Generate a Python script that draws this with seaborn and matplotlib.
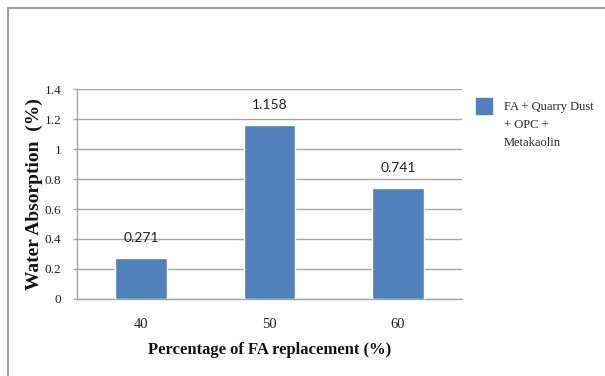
import matplotlib
matplotlib.use("Agg")
import matplotlib.pyplot as plt
import seaborn as sns
import pandas as pd
from matplotlib.lines import Line2D

# Data
replacement = ["40", "50", "60"]
water_absorption = [0.271, 1.158, 0.741]
value_labels = ["0.271", "1.158", "0.741"]
series_name = "FA + Quarry Dust\n+ OPC +\nMetakaolin"
y_ticks = [0, 0.2, 0.4, 0.6, 0.8, 1, 1.2, 1.4]
y_tick_labels = ["0", "0.2", "0.4", "0.6", "0.8", "1", "1.2", "1.4"]

df = pd.DataFrame({"Replacement": replacement, "Absorption": water_absorption})

sns.set_theme(style="white")
plt.rcParams["font.family"] = ["Liberation Serif", "DejaVu Serif"]

bar_color = "#4F81BD"
grid_color = "#A6A6A6"

fig = plt.figure(figsize=(6.05, 3.76), dpi=100)
ax = fig.add_axes([0.127, 0.205, 0.637, 0.558])

sns.barplot(data=df, x="Replacement", y="Absorption", color=bar_color,
            width=0.4, saturation=1, ax=ax, zorder=3)

ax.set_ylim(0, 1.4)
ax.set_yticks(y_ticks)
ax.set_yticklabels(y_tick_labels)
ax.set_xlim(-0.5, 2.5)
ax.yaxis.grid(True, color=grid_color, linewidth=1.0, zorder=0)
ax.set_axisbelow(True)

for side in ["top", "right"]:
    ax.spines[side].set_visible(False)
for side in ["left", "bottom"]:
    ax.spines[side].set_color(grid_color)
    ax.spines[side].set_linewidth(1.0)

ax.tick_params(axis="y", which="both", left=True, length=3, width=1,
               color=grid_color, labelsize=9.5, labelcolor="#222222", pad=8)
ax.tick_params(axis="x", bottom=False, labelsize=10.5, labelcolor="#222222", pad=8)

ax.set_xlabel("Percentage of FA replacement (%)", fontsize=12,
              fontweight="bold", color="#111111", labelpad=8)
ax.set_ylabel("Water Absorption  (%)", fontsize=14,
              fontweight="bold", color="#111111")
ax.yaxis.set_label_coords(-0.088, 0.5)

# Value labels above the bars
for i, (v, lab) in enumerate(zip(water_absorption, value_labels)):
    ax.annotate(lab, (i, v), xytext=(0, 10), textcoords="offset points",
                ha="center", va="bottom", fontsize=10,
                family=["Lato", "DejaVu Sans"], color="#222222")

# Legend, with the swatch aligned to the first line of the label
handle = Line2D([0], [0], marker="s", linestyle="none", markersize=11,
                markerfacecolor=bar_color, markeredgecolor=bar_color)
leg = fig.legend([handle], [series_name], loc="upper left",
                 bbox_to_anchor=(0.789, 0.731), frameon=False,
                 fontsize=9, handletextpad=1.1, handlelength=1.0,
                 borderaxespad=0, borderpad=0)
for txt in leg.get_texts():
    txt.set_linespacing(1.65)
for column in leg._legend_handle_box.get_children():
    for item in column.get_children():
        item.align = "top"

# Outer chart frame (top and left edges)
fig.add_artist(Line2D([0.0135, 1.0], [0.978, 0.978], transform=fig.transFigure,
                      color="#8C8C8C", linewidth=1.2))
fig.add_artist(Line2D([0.0135, 0.0135], [0.0, 0.978], transform=fig.transFigure,
                      color="#8C8C8C", linewidth=1.2))

fig.savefig("out.png", dpi=100)
